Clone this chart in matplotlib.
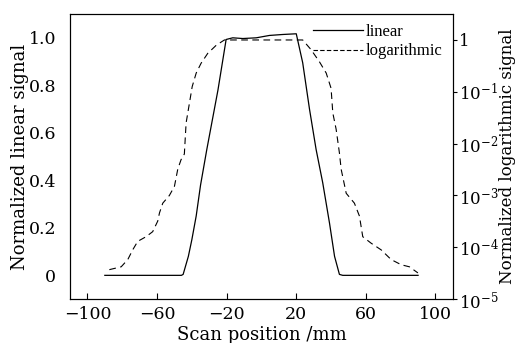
import numpy as np
import matplotlib.pyplot as plt
from matplotlib.lines import Line2D

plt.rcParams['font.family'] = ['DejaVu Serif']
plt.rcParams['mathtext.fontset'] = 'dejavuserif'

# linear signal (left axis)
x_lin = [-90, -46, -45, -42, -40, -37.5, -35, -31.4, -25, -20.3, -16.5, -10.7, -3,
         4.6, 12.2, 20, 23.7, 27.6, 31.4, 35.2, 39.1, 42, 44.8, 46.7, 90]
y_lin = [0, 0, 0.004, 0.08, 0.15, 0.25, 0.38, 0.53, 0.78, 0.993, 1.0, 0.997, 1.0,
         1.01, 1.014, 1.017, 0.895, 0.70, 0.53, 0.39, 0.22, 0.08, 0.004, 0, 0]

# logarithmic signal (right axis)
x_log = [-87.4, -80.6, -76.8, -74, -71.1, -66.3, -62.5, -59.6, -58.6, -56.7, -52.9,
         -50, -48.1, -46.2, -44.3, -43.3, -41.4, -39.8, -37.5, -34.7, -30.9, -26,
         -21.3, 0, 20, 23.7, 28.5, 33.3, 37.2, 40, 41, 42.9, 44.8, 45.8, 48.7, 53.4,
         56.3, 58.2, 63, 68.8, 74.5, 80.3, 85, 89.9]
y_log = [3.7e-5, 4.2e-5, 5.8e-5, 8.9e-5, 1.3e-4, 1.6e-4, 2.0e-4, 3.2e-4, 4.6e-4,
         7.1e-4, 1.0e-3, 1.5e-3, 3.2e-3, 4.9e-3, 6.3e-3, 2.5e-2, 6.0e-2, 0.126, 0.23,
         0.355, 0.55, 0.79, 1.0, 1.0, 1.0, 1.0, 0.65, 0.38, 0.23, 0.117, 0.039, 0.019,
         6.6e-3, 3.2e-3, 1.1e-3, 7.1e-4, 4.0e-4, 1.6e-4, 1.2e-4, 8.9e-5, 5.8e-5,
         4.6e-5, 4.2e-5, 3.2e-5]

xticks = [-100, -60, -20, 20, 60, 100]
lin_ticks = [0, 0.2, 0.4, 0.6, 0.8, 1.0]
lin_labels = ['0', '0.2', '0.4', '0.6', '0.8', '1.0']
log_ticks = [1e-5, 1e-4, 1e-3, 1e-2, 1e-1, 1]
log_labels = [r'$10^{-5}$', r'$10^{-4}$', r'$10^{-3}$', r'$10^{-2}$', r'$10^{-1}$', '1']

fig = plt.figure(figsize=(5.16, 3.43), dpi=100)
ax = fig.add_axes([0.1357, 0.128, 0.742, 0.831])
ax2 = ax.twinx()

ax.plot(x_lin, y_lin, color='black', lw=0.9)
ax2.plot(x_log, y_log, color='black', lw=0.8, dashes=(6, 4))

ax.set_xlim(-110, 110)
ax.set_ylim(-0.1, 1.1)
ax2.set_yscale('log')
ax2.set_ylim(1e-5, 10 ** 0.5)

ax.set_xticks(xticks)
ax.set_xticklabels([str(t).replace('-', '\u2212') for t in xticks])
ax.set_yticks(lin_ticks)
ax.set_yticklabels(lin_labels)
ax2.set_yticks(log_ticks)
ax2.set_yticklabels(log_labels)
ax2.minorticks_off()

ax.tick_params(axis='x', direction='in', length=4, labelsize=12.5, pad=5)
ax.tick_params(axis='y', direction='in', length=0, labelsize=12.5, pad=10)
ax2.tick_params(axis='y', direction='out', length=3, labelsize=12, pad=1.5)

ax.set_xlabel('Scan position /mm', fontsize=13, labelpad=2)
ax.set_ylabel('Normalized linear signal', fontsize=13, labelpad=0)
ax2.set_ylabel('Normalized logarithmic signal', fontsize=12)
ax2.yaxis.set_label_coords(1.12, 0.5)

handles = [Line2D([], [], color='black', lw=0.9),
           Line2D([], [], color='black', lw=0.8, dashes=(4, 2))]
ax2.legend(handles, ['linear', 'logarithmic'], loc='upper right', frameon=False,
           prop={'family': 'Liberation Serif', 'size': 12},
           handlelength=3.0, handletextpad=0.2, borderaxespad=0.2,
           labelspacing=0.2)

fig.savefig('out.png', dpi=100)
